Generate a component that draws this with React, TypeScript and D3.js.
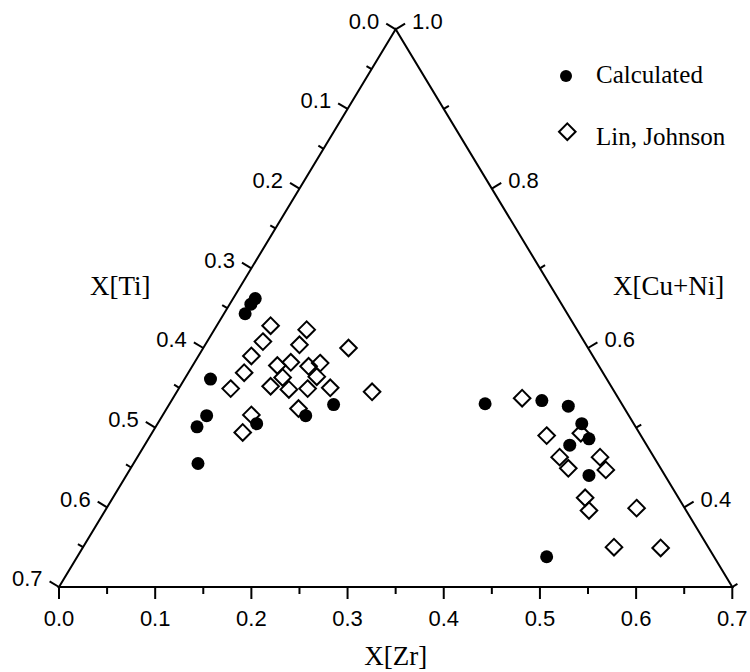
import React from "react";
import * as d3 from "d3";

// ---- Data (mole fractions) ----
const calculatedZr = [0.023, 0.022, 0.022, 0.027, 0.046, 0.043, 0.067, 0.103, 0.149, 0.171,
  0.328, 0.385, 0.416, 0.441, 0.458, 0.442, 0.481, 0.488];
const calculatedTi = [0.315, 0.323, 0.335, 0.412, 0.439, 0.456, 0.478, 0.392, 0.336, 0.300,
  0.142, 0.081, 0.057, 0.054, 0.056, 0.080, 0.079, 0.174];

const linJohnsonZr = [0.056, 0.096, 0.058, 0.098, 0.151, 0.055, 0.100, 0.088, 0.121, 0.131, 0.058,
  0.101, 0.136, 0.054, 0.094, 0.115, 0.134, 0.157, 0.203, 0.137, 0.092, 0.094,
  0.363, 0.412, 0.446, 0.439, 0.455, 0.481, 0.495, 0.491, 0.503, 0.551, 0.552, 0.601];
const linJohnsonTi = [0.316, 0.281, 0.334, 0.298, 0.249, 0.355, 0.318, 0.334, 0.302, 0.288, 0.373,
  0.336, 0.300, 0.397, 0.354, 0.337, 0.317, 0.293, 0.252, 0.339, 0.392, 0.412,
  0.100, 0.098, 0.061, 0.098, 0.096, 0.056, 0.058, 0.097, 0.101, 0.050, 0.098, 0.050];

const zrTicks = d3.range(0, 0.7001, 0.05);
const tiTicks = d3.range(0, 0.7001, 0.05);
const cuNiTicks = [1.0, 0.9, 0.8, 0.7, 0.6, 0.5, 0.4, 0.3];

const legendLabels = ["Calculated", "Lin, Johnson"];

const W = 750;
const H = 672;

const zrScale = d3.scaleLinear().domain([0, 0.7]).range([59, 732.3]);
const cScale = d3.scaleLinear().domain([0.3, 1]).range([587, 29.3]);

function project(zr: number, ti: number): [number, number] {
  const c = 1 - zr - ti;
  return [zrScale(zr + 0.5 * (c - 0.3)), cScale(c)];
}

const SANS = "'Liberation Sans', Arial, Helvetica, sans-serif";
const SERIF = "'Liberation Serif', 'Times New Roman', Times, serif";

function fmt(v: number) {
  return d3.format(".1f")(v);
}

export default function App() {
  const top = project(0, 0);
  const bl = project(0, 0.7);
  const br = project(0.7, 0);

  const norm = (dx: number, dy: number): [number, number] => {
    const l = Math.hypot(dx, dy);
    return [dx / l, dy / l];
  };
  // outward normals
  const nLeft = norm(-(top[1] - bl[1]) * -1 * -1, 0); // placeholder replaced below
  const leftEdge = [top[0] - bl[0], top[1] - bl[1]];
  const nL = norm(leftEdge[1], -leftEdge[0]); // rotate
  const nLo: [number, number] = nL[0] < 0 ? nL : [-nL[0], -nL[1]];
  const rightEdge = [top[0] - br[0], top[1] - br[1]];
  const nR = norm(rightEdge[1], -rightEdge[0]);
  const nRo: [number, number] = nR[0] > 0 ? nR : [-nR[0], -nR[1]];
  void nLeft;

  const isMajor = (v: number) => Math.round(v * 20) % 2 === 0;

  const diamond = (cx: number, cy: number, r: number) =>
    `M${cx},${cy - r}L${cx + r},${cy}L${cx},${cy + r}L${cx - r},${cy}Z`;

  const tri = d3.line()([top, bl, br]) + "Z";

  return (
    <svg
      width={W}
      height={H}
      style={{ position: "absolute", left: 0, top: 0, background: "#fff" }}
    >
      <rect x={0} y={0} width={W} height={H} fill="#fff" />
      <path d={tri} fill="none" stroke="#000" strokeWidth={2} strokeLinejoin="miter" />

      {/* bottom axis X[Zr] */}
      {zrTicks.map((z, i) => {
        const p = project(z, 0.7 - z);
        const major = isMajor(z);
        const len = major ? 12 : 7;
        return (
          <g key={"b" + i}>
            <line x1={p[0]} y1={p[1]} x2={p[0]} y2={p[1] + len} stroke="#000" strokeWidth={2} />
            {major && (
              <text x={p[0]} y={p[1] + 38.5} textAnchor="middle" fontFamily={SANS} fontSize={22}>
                {fmt(z)}
              </text>
            )}
          </g>
        );
      })}

      {/* left axis X[Ti] */}
      {tiTicks.map((t, i) => {
        const p = project(0, t);
        const major = isMajor(t);
        const len = major ? 11 : 6;
        const e: [number, number] = [p[0] + nLo[0] * len, p[1] + nLo[1] * len];
        return (
          <g key={"l" + i}>
            <line x1={p[0]} y1={p[1]} x2={e[0]} y2={e[1]} stroke="#000" strokeWidth={2} />
            {major && (
              <text x={e[0] - 7} y={e[1] + 5} textAnchor="end" fontFamily={SANS} fontSize={22}>
                {fmt(t)}
              </text>
            )}
          </g>
        );
      })}

      {/* right axis X[Cu+Ni] */}
      {cuNiTicks.map((c, i) => {
        const p = project(1 - c, 0);
        const major = Math.round(c * 10) % 2 === 0;
        const len = major ? 11 : 6;
        const e: [number, number] = [p[0] + nRo[0] * len, p[1] + nRo[1] * len];
        return (
          <g key={"r" + i}>
            <line x1={p[0]} y1={p[1]} x2={e[0]} y2={e[1]} stroke="#000" strokeWidth={2} />
            {major && (
              <text x={e[0] + 7} y={e[1] + 5} textAnchor="start" fontFamily={SANS} fontSize={22}>
                {fmt(c)}
              </text>
            )}
          </g>
        );
      })}

      {/* axis titles */}
      <text x={90} y={295} fontFamily={SERIF} fontSize={27}>X[Ti]</text>
      <text x={613} y={295} fontFamily={SERIF} fontSize={27}>X[Cu+Ni]</text>
      <text x={395.7} y={665} textAnchor="middle" fontFamily={SERIF} fontSize={27}>X[Zr]</text>

      {/* Lin, Johnson diamonds */}
      {linJohnsonZr.map((z, i) => {
        const p = project(z, linJohnsonTi[i]);
        return (
          <path key={"d" + i} d={diamond(p[0], p[1], 8.3)} fill="none" stroke="#000" strokeWidth={2} />
        );
      })}

      {/* Calculated circles */}
      {calculatedZr.map((z, i) => {
        const p = project(z, calculatedTi[i]);
        return <circle key={"c" + i} cx={p[0]} cy={p[1]} r={6.5} fill="#000" />;
      })}

      {/* legend */}
      <circle cx={566} cy={76} r={6} fill="#000" />
      <text x={596} y={83} fontFamily={SERIF} fontSize={25}>{legendLabels[0]}</text>
      <path d={diamond(567.3, 131.7, 8.3)} fill="#fff" stroke="#000" strokeWidth={2} />
      <text x={596} y={145} fontFamily={SERIF} fontSize={25}>{legendLabels[1]}</text>
    </svg>
  );
}
